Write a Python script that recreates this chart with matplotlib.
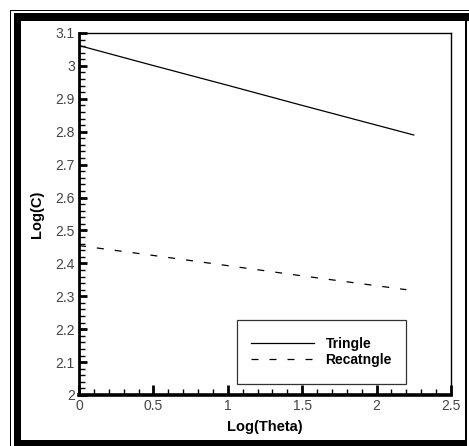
import matplotlib
matplotlib.use("Agg")
import matplotlib.pyplot as plt
from matplotlib.patches import Rectangle
from matplotlib.ticker import MultipleLocator

plt.rcParams['font.family'] = ['Liberation Sans', 'DejaVu Sans']

# data
log_theta_tri = [0.0, 0.5, 1.0, 1.5, 2.0, 2.25]
log_c_tri = [3.062, 3.001, 2.941, 2.880, 2.820, 2.79]
log_theta_rect = [0.0, 0.5, 1.0, 1.5, 2.0, 2.2]
log_c_rect = [2.454, 2.424, 2.393, 2.362, 2.332, 2.320]
labels = ['Tringle', 'Recatngle']

W, H = 469, 446
fig = plt.figure(figsize=(W / 100, H / 100), dpi=100)

# outer double frame (pixel boxes -> figure fractions)
def frame_box(x0, y0, x1, y1):
    fig.add_artist(Rectangle((x0 / W, 1 - y1 / H), (x1 - x0) / W, (y1 - y0) / H,
                             transform=fig.transFigure, facecolor='black',
                             edgecolor='none', zorder=0))

frame_box(9.5, 9.5, 469, 11)     # thin top
frame_box(9.5, 9.5, 11, 446)     # thin left
frame_box(14, 13, 469, 20.5)     # thick top
frame_box(14, 13, 20.5, 446)     # thick left
frame_box(14, 440, 467, 446)     # thick bottom
frame_box(465, 13, 467, 446)     # right

ax = fig.add_axes([79 / W, 1 - 395 / H, 372 / W, 362 / H])

ax.plot(log_theta_tri, log_c_tri, color='black', lw=0.9, label=labels[0])
ax.plot(log_theta_rect, log_c_rect, color='black', lw=0.9,
        dashes=(5.6, 8.8), label=labels[1])

ax.set_xlim(0, 2.5)
ax.set_ylim(2, 3.1)
ax.xaxis.set_major_locator(MultipleLocator(0.5))
ax.xaxis.set_minor_locator(MultipleLocator(0.1))
ax.yaxis.set_major_locator(MultipleLocator(0.1))
ax.yaxis.set_minor_locator(MultipleLocator(0.02))
ax.set_xticks([0, 0.5, 1, 1.5, 2, 2.5])
ax.set_xticklabels(['0', '0.5', '1', '1.5', '2', '2.5'])
ax.set_yticks([2, 2.1, 2.2, 2.3, 2.4, 2.5, 2.6, 2.7, 2.8, 2.9, 3, 3.1])
ax.set_yticklabels(['2', '2.1', '2.2', '2.3', '2.4', '2.5', '2.6', '2.7',
                    '2.8', '2.9', '3', '3.1'])

ax.tick_params(axis='both', which='major', direction='in', width=2,
               labelsize=10, labelcolor='#444444', top=False, right=False)
ax.tick_params(axis='x', which='major', length=7, pad=3)
ax.tick_params(axis='y', which='major', length=6, pad=3)
ax.tick_params(axis='both', which='minor', direction='in', width=1,
               length=4, top=False, right=False)

ax.spines['left'].set_linewidth(2)
ax.spines['bottom'].set_linewidth(2.6)
ax.spines['top'].set_linewidth(1)
ax.spines['right'].set_linewidth(1)

ax.set_xlabel('Log(Theta)', fontsize=10.5, fontweight='bold', labelpad=5)
ax.set_ylabel('Log(C)', fontsize=10.5, fontweight='bold', labelpad=8)

# legend box
lx0, ly0 = (237 - 79) / 372, (395 - 384) / 362
lw_, lh_ = (406 - 237) / 372, (384 - 320) / 362
ax.add_patch(Rectangle((lx0, ly0), lw_, lh_, transform=ax.transAxes,
                       facecolor='white', edgecolor='#333333', lw=0.9, zorder=3))
leg = ax.legend(loc='center', bbox_to_anchor=(lx0, ly0, lw_, lh_),
                frameon=False, handlelength=4.5, handletextpad=0.85,
                labelspacing=0.1, prop={'weight': 'bold', 'size': 10})
leg.set_zorder(4)
for line in leg.get_lines():
    line.set_linewidth(0.9)

fig.savefig('out.png', dpi=100)
